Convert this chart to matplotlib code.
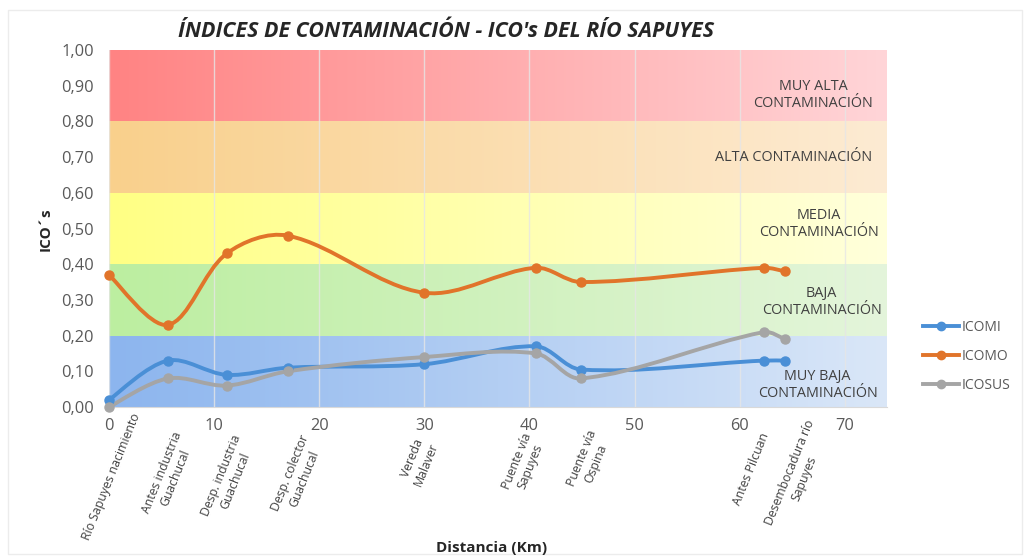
import numpy as np
import matplotlib
matplotlib.use('Agg')
import matplotlib.pyplot as plt
from matplotlib.path import Path
from matplotlib.patches import PathPatch, Rectangle
from matplotlib.colors import to_rgb
from matplotlib.lines import Line2D

plt.rcParams['font.family'] = ['Open Sans', 'DejaVu Sans']

# datos
distancia = [0, 5.6, 11.2, 17.0, 30.0, 40.6, 44.9, 62.3, 64.3]
estaciones = ['Río Sapuyes nacimiento', 'Antes industria\nGuachucal', 'Desp. industria\nGuachucal',
              'Desp. colector\nGuachucal', 'Vereda\nMalaver', 'Puente vía\nSapuyes',
              'Puente vía\nOspina', 'Antes Pilcuan', 'Desembocadura río\nSapuyes']
icomi = [0.02, 0.13, 0.09, 0.11, 0.12, 0.17, 0.105, 0.13, 0.13]
icomo = [0.37, 0.23, 0.43, 0.48, 0.32, 0.39, 0.35, 0.39, 0.38]
icosus = [0.00, 0.08, 0.06, 0.10, 0.14, 0.15, 0.08, 0.21, 0.19]
series = ['ICOMI', 'ICOMO', 'ICOSUS']

zonas = ['MUY BAJA\nCONTAMINACIÓN', 'BAJA\nCONTAMINACIÓN', 'MEDIA\nCONTAMINACIÓN',
         'ALTA CONTAMINACIÓN', 'MUY ALTA\nCONTAMINACIÓN']
limites = [0, 0.2, 0.4, 0.6, 0.8, 1.0]

# estilos
colores = ['#4A8FD6', '#E1742A', '#A5A5A5']
color_izq = ['#8CB5EE', '#BCEEA0', '#FFFF84', '#F9D08C', '#FF8383']
color_der = ['#DAE7F8', '#E4F5DB', '#FFFFDB', '#FDEBD3', '#FFD5D8']
pos_zonas = [(67.4, 0.062), (67.8, 0.294), (67.5, 0.513), (65.1, 0.70), (67.0, 0.874)]
desp_etiq = [(22, 4), (4, 23), (5, 26), (12, 26), (-10, 28), (-14, 24), (6, 21), (-4, 24), (20, 11)]


def curva_suave(ax, x, y):
    # bezier suavizada; tangentes escaladas por la longitud de cada tramo en pixeles
    p = np.column_stack([x, y]).astype(float)
    pix = ax.transData.transform(p)
    d = np.hypot(*np.diff(pix, axis=0).T)
    n = len(p)
    verts = [p[0]]
    codes = [Path.MOVETO]
    for i in range(n - 1):
        if i == 0:
            c1 = p[0] + (p[1] - p[0]) / 6
        else:
            c1 = p[i] + (p[i + 1] - p[i - 1]) * d[i] / (d[i - 1] + d[i]) / 3
        if i + 2 >= n:
            c2 = p[i + 1] - (p[i + 1] - p[i]) / 6
        else:
            c2 = p[i + 1] - (p[i + 2] - p[i]) * d[i] / (d[i] + d[i + 1]) / 3
        verts += [c1, c2, p[i + 1]]
        codes += [Path.CURVE4] * 3
    return Path(verts, codes)


fig = plt.figure(figsize=(10.3, 5.6), dpi=100)
fig.patches.append(Rectangle((0.008, 0.01), 0.984, 0.972, transform=fig.transFigure,
                             fill=False, edgecolor='#ECECEC', lw=1))
ax = fig.add_axes([0.1058, 0.2732, 0.7553, 0.6375])
ax.set_xlim(0, 74)
ax.set_ylim(0, 1)

# bandas con degradado
for k in range(len(zonas)):
    c1 = np.array(to_rgb(color_izq[k]))
    c2 = np.array(to_rgb(color_der[k]))
    t = np.linspace(0, 1, 256)[None, :, None]
    grad = c1 + (c2 - c1) * t
    ax.imshow(grad, extent=(0, 74, limites[k], limites[k + 1]), aspect='auto',
              interpolation='bicubic', zorder=0)
    ax.text(pos_zonas[k][0], pos_zonas[k][1], zonas[k], ha='center', va='center',
            fontsize=10.4, color='#404040', linespacing=1.15, zorder=1)

ax.set_xlim(0, 74)
ax.set_ylim(0, 1)
ax.set_xticks(range(0, 80, 10))
ax.set_yticks(np.arange(0, 1.01, 0.1))
ax.set_yticklabels([f'{v:.2f}'.replace('.', ',') for v in np.arange(0, 1.01, 0.1)])
ax.tick_params(length=0, labelsize=11.8, colors='#595959')
ax.tick_params(axis='x', pad=8)
ax.tick_params(axis='y', pad=11)
ax.xaxis.grid(True, color='#E6E6E6', lw=1, alpha=0.8)
ax.set_axisbelow(True)
for s in ['top', 'right', 'left']:
    ax.spines[s].set_visible(False)
ax.spines['bottom'].set_color('#D9D9D9')

for yv, col in zip([icomi, icomo, icosus], colores):
    ax.add_patch(PathPatch(curva_suave(ax, distancia, yv), facecolor='none', edgecolor=col,
                           lw=2.8, zorder=3, capstyle='round'))
    ax.plot(distancia, yv, 'o', ms=6.5, color=col, zorder=4, clip_on=False)

for xv, txt, (dx, dy) in zip(distancia, estaciones, desp_etiq):
    ax.annotate(txt, xy=(xv, 0), xycoords=('data', 'axes fraction'), xytext=(dx, -dy),
                textcoords='offset pixels', rotation=68, rotation_mode='anchor',
                ha='right', va='top', multialignment='center', fontsize=8.8,
                color='#404040', linespacing=1.2, annotation_clip=False)

manejadores = [Line2D([0], [0], color=c, lw=2.8, marker='o', ms=6) for c in colores]
fig.legend(manejadores, series, loc='center left', bbox_to_anchor=(0.884, 0.363),
           frameon=False, fontsize=10, labelcolor='#595959', handlelength=2.6,
           handletextpad=0.15, labelspacing=1.0)

fig.text(0.433, 0.943, "ÍNDICES DE CONTAMINACIÓN - ICO's DEL RÍO SAPUYES", ha='center',
         va='center', fontsize=15.4, fontweight='bold', fontstyle='italic', color='#262626')
fig.text(0.044, 0.59, 'ICO´s', rotation=90, ha='center', va='center', fontsize=11,
         fontweight='bold', color='#262626')
fig.text(0.477, 0.021, 'Distancia (Km)', ha='center', va='center', fontsize=11,
         fontweight='bold', color='#262626')

fig.savefig('out.png', dpi=100)
